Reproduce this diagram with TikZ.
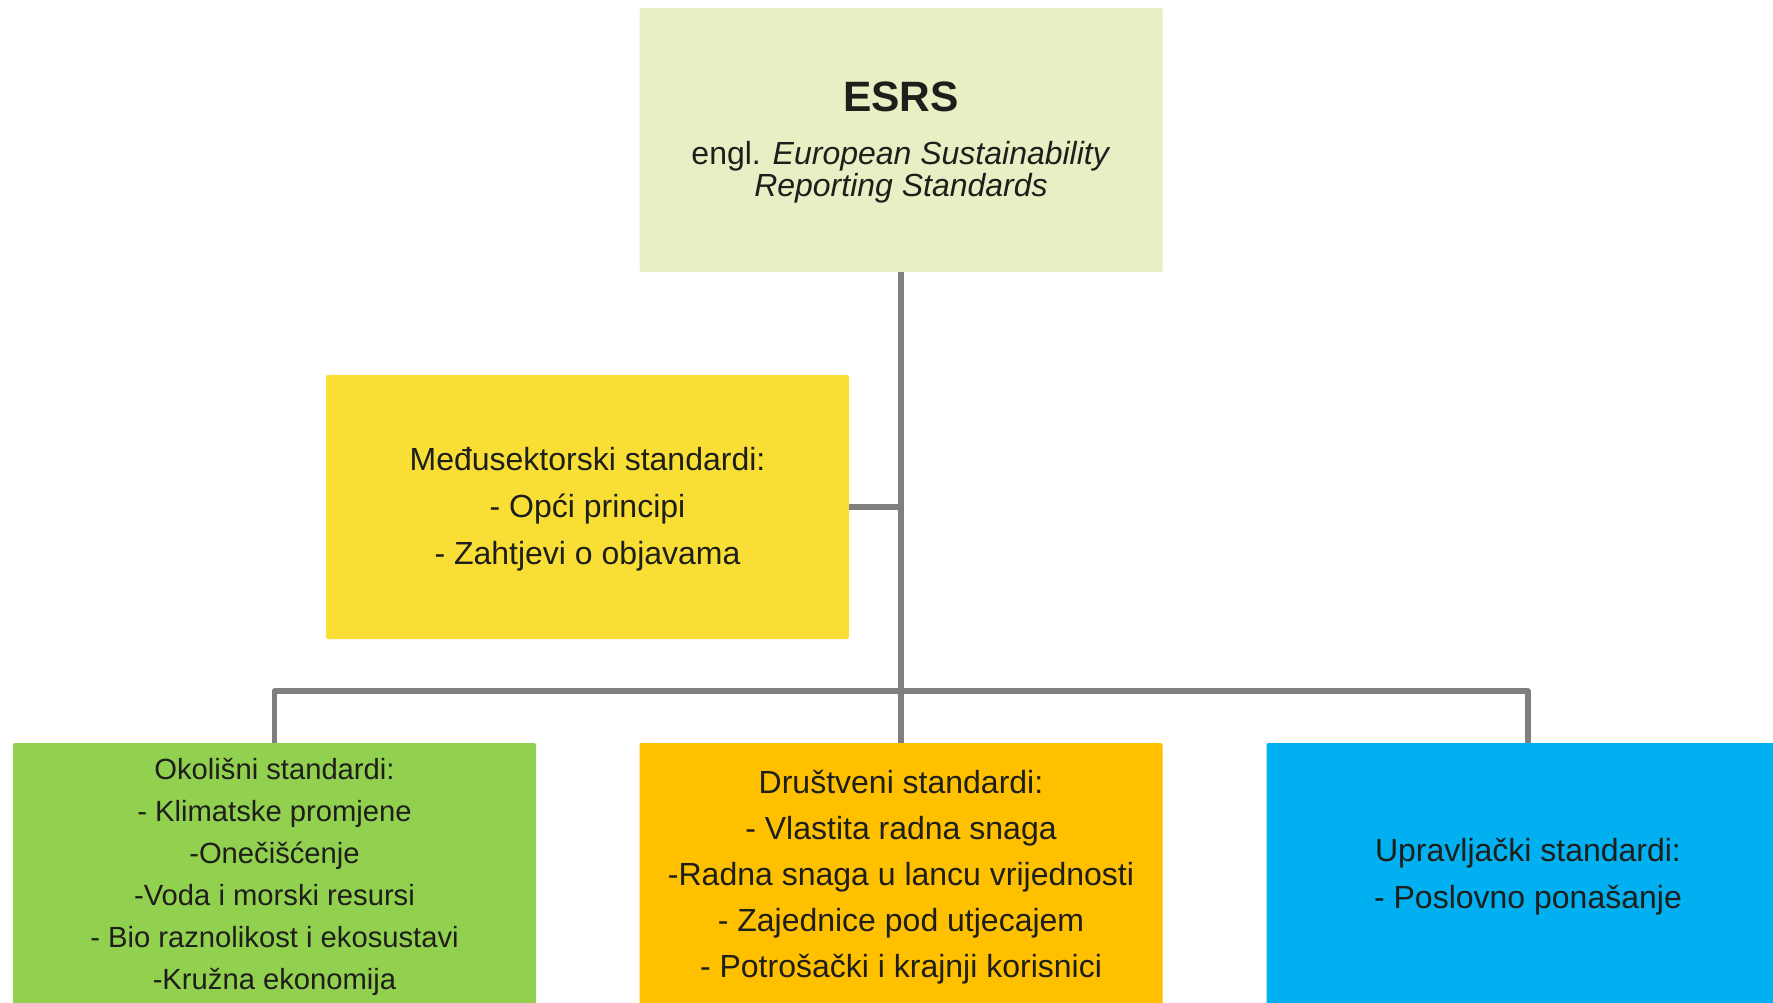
\documentclass[tikz,border=0pt]{standalone}
\usepackage{fontspec}
\setmainfont{Liberation Sans}
\definecolor{esrsfill}{HTML}{E9EFC5}
\definecolor{yelfill}{HTML}{F9DF35}
\definecolor{grnfill}{HTML}{92D050}
\definecolor{orgfill}{HTML}{FFC000}
\definecolor{blufill}{HTML}{00B0F0}
\definecolor{lineg}{HTML}{7F7F7F}
\definecolor{txt}{HTML}{1E1E1A}
\begin{document}
\begin{tikzpicture}[x=0.5pt,y=-0.5pt,
  box/.style={rectangle, rounded corners=1pt, inner sep=0pt, align=center, text=txt, minimum width=261.5pt},
  conn/.style={draw=lineg, line width=2.8pt, line join=round}]
\useasboundingbox (0,0) rectangle (1773,1002);
\clip (0,0) rectangle (1773,1002);
\node[box, fill=esrsfill, minimum height=132pt,
  font=\fontsize{16}{16.3}\selectfont] (esrs) at (901,140)
  {\rule{0pt}{17.5pt}{\fontsize{21.25}{24}\selectfont\bfseries ESRS}\\[10.2pt]
   engl. \textit{European Sustainability}\\ \textit{Reporting Standards}};
\node[box, fill=yelfill, minimum height=132pt,
  font=\fontsize{16}{23.35}\selectfont] (yel) at (587.5,507)
  {\rule{0pt}{14pt}Međusektorski standardi:\\ - Opći principi\\ - Zahtjevi o objavama};
\node[box, fill=grnfill, minimum height=134pt,
  font=\fontsize{14.6}{21}\selectfont] (grn) at (274.5,877)
  {Okolišni standardi:\\ - Klimatske promjene\\ -Onečišćenje\\ -Voda i morski resursi\\ - Bio raznolikost i ekosustavi\\ -Kružna ekonomija};
\node[box, fill=orgfill, minimum height=134pt,
  font=\fontsize{16}{23}\selectfont] (org) at (901,877)
  {Društveni standardi:\\ - Vlastita radna snaga\\ -Radna snaga u lancu vrijednosti\\ - Zajednice pod utjecajem\\ - Potrošački i krajnji korisnici};
\node[box, fill=blufill, minimum height=134pt,
  font=\fontsize{16}{23.5}\selectfont] (blu) at (1528,877)
  {Upravljački standardi:\\ - Poslovno ponašanje};
\coordinate (bus) at (901,691);
\draw[conn] (esrs.south) -- (org.north);
\draw[conn] (yel.east) -- (esrs.south |- yel.east);
\draw[conn] (grn.north) |- (bus) -| (blu.north);
\end{tikzpicture}
\end{document}
